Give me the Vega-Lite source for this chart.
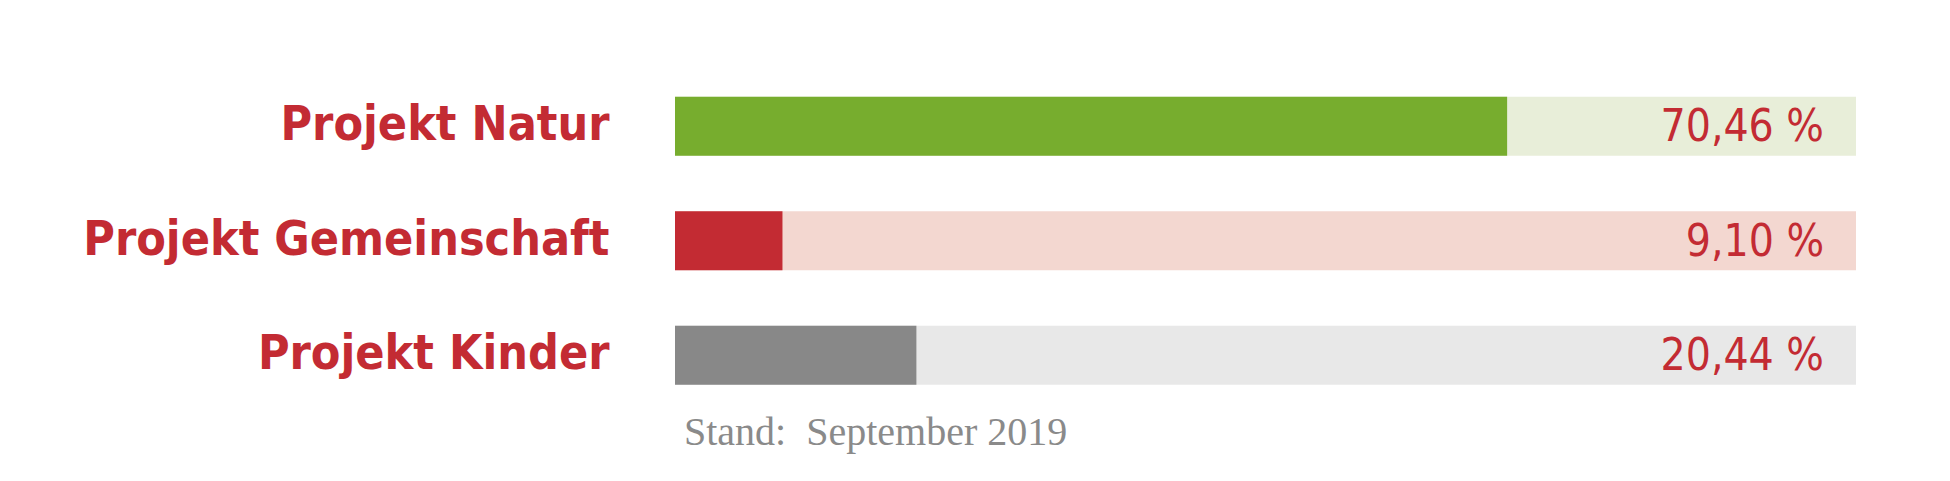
{
  "$schema": "https://vega.github.io/schema/vega-lite/v6.json",
  "autosize": "none",
  "width": 1181,
  "height": 343.5,
  "padding": {"left": 675, "top": 69, "right": 94, "bottom": 68},
  "background": "white",
  "config": {"view": {"stroke": null}},
  "title": {
    "text": "Stand:\u00a0 September 2019",
    "orient": "bottom",
    "anchor": "start",
    "frame": "group",
    "baseline": "alphabetic",
    "offset": 32,
    "dx": 9,
    "font": "Liberation Serif",
    "fontSize": 40,
    "fontWeight": "normal",
    "color": "#8A8A8A"
  },
  "data": {
    "values": [
      {"projekt": "Projekt Natur", "wert": 70.46, "gesamt": 100, "label": "70,46 %"},
      {"projekt": "Projekt Gemeinschaft", "wert": 9.10, "gesamt": 100, "label": "9,10 %"},
      {"projekt": "Projekt Kinder", "wert": 20.44, "gesamt": 100, "label": "20,44 %"}
    ]
  },
  "encoding": {
    "y": {
      "field": "projekt",
      "type": "nominal",
      "sort": null,
      "scale": {"paddingInner": 0.485, "paddingOuter": 0.2425},
      "axis": {
        "title": null,
        "domain": false,
        "ticks": false,
        "labelFont": "DejaVu Sans Condensed",
        "labelFontWeight": "bold",
        "labelFontSize": 48,
        "labelColor": "#C32B33",
        "labelPadding": 66,
        "labelLimit": 0
      }
    }
  },
  "layer": [
    {
      "mark": {"type": "bar"},
      "encoding": {
        "x": {"field": "gesamt", "type": "quantitative", "scale": {"domain": [0, 100], "nice": false}, "axis": null},
        "color": {
          "field": "projekt",
          "type": "nominal",
          "scale": {"domain": ["Projekt Natur", "Projekt Gemeinschaft", "Projekt Kinder"], "range": ["#E8EED9", "#F3D7D0", "#E8E8E8"]},
          "legend": null
        }
      }
    },
    {
      "mark": {"type": "bar"},
      "encoding": {
        "x": {"field": "wert", "type": "quantitative"},
        "fill": {
          "field": "projekt",
          "type": "nominal",
          "scale": {"domain": ["Projekt Natur", "Projekt Gemeinschaft", "Projekt Kinder"], "range": ["#77AD2E", "#C32B33", "#888888"]},
          "legend": null
        }
      }
    },
    {
      "mark": {"type": "text", "align": "right", "baseline": "middle", "dx": -32, "dy": 2, "font": "DejaVu Sans Condensed", "fontSize": 44, "color": "#C32B33"},
      "encoding": {
        "x": {"field": "gesamt", "type": "quantitative"},
        "text": {"field": "label"}
      }
    }
  ],
  "resolve": {"scale": {"color": "independent", "fill": "independent"}}
}
